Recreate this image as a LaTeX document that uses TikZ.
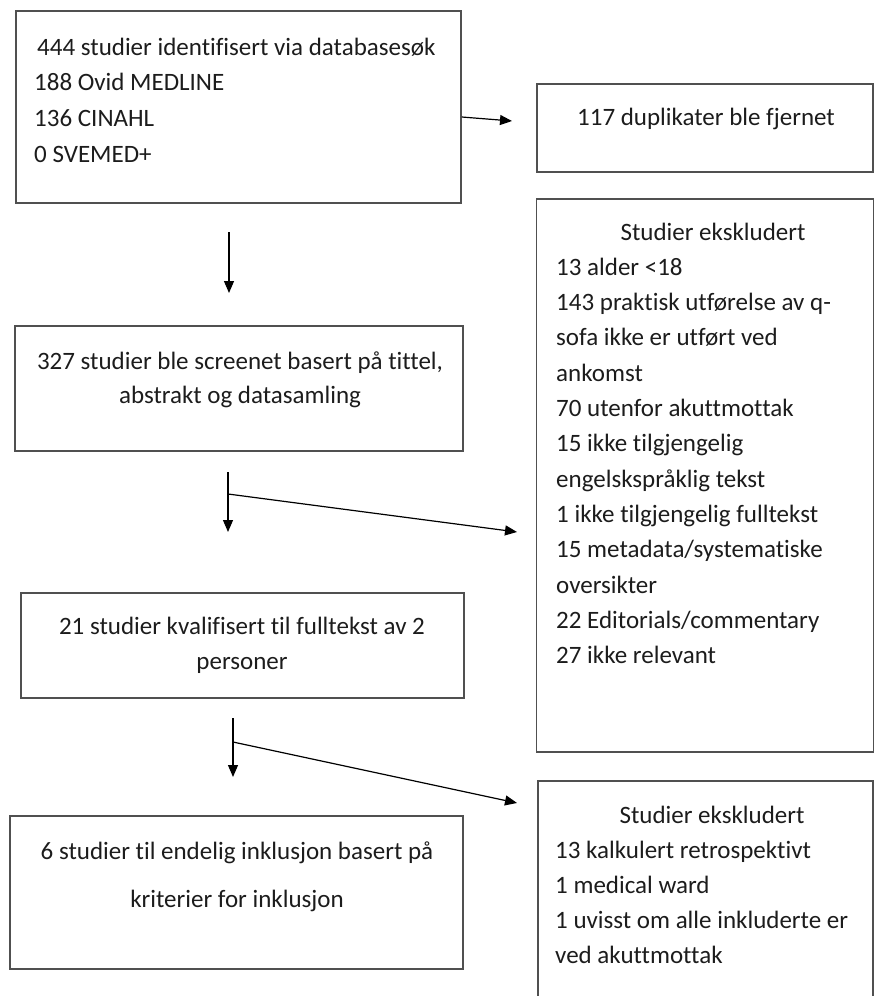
\documentclass[tikz,border=0pt]{standalone}
\usepackage{fontspec}
\setmainfont{Carlito}[Ligatures = NoCommon]
\usepackage{tikz}
\usetikzlibrary{arrows.meta}
\definecolor{boxgray}{HTML}{505050}
\definecolor{inkblack}{HTML}{1C1C1C}
\tikzset{
  box/.style = {draw = boxgray, line width = 1.6pt, inner sep = 0pt},
  txt/.style = {font = \fontsize{25}{35}\selectfont, text = inkblack, inner sep = 0pt},
  arr/.style = {line width = 1.2pt, -{Triangle[length = 12pt, width = 10pt]}}
}

\begin{document}
\begin{tikzpicture}[x = 1pt, y = -1pt]
\useasboundingbox (0,0) rectangle (874,996);
\clip (0,0) rectangle (874,996);
\node[box, minimum width = 445, minimum height = 192] (search) at (238.5,107) {};
\node[box, minimum width = 336, minimum height = 88] (dupl) at (705,128) {};
\node[box, minimum width = 448, minimum height = 125] (screen) at (239,388.5) {};
\node[box, minimum width = 337, minimum height = 553] (excl1) at (705,475.5) {};
\node[box, minimum width = 443, minimum height = 105] (full) at (242.5,645.5) {};
\node[box, minimum width = 453, minimum height = 153] (incl) at (236.5,892.5) {};
\node[box, minimum width = 335, minimum height = 260] (excl2) at (705.5,911) {};

\node[txt, anchor = base west] (search-0) at (37,55) {444 studier identifisert via databasesøk};
\foreach \t [count = \i] in {188 Ovid MEDLINE, 136 CINAHL, 0 SVEMED+}
  \node[txt, anchor = base west] (search-\i) at (34,{55+35.7*\i}) {\t};
\node[txt, anchor = base] (dupl-0) at (706,125) {117 duplikater ble fjernet};
\node[txt, anchor = base] (screen-0) at (240,369) {327 studier ble screenet basert på tittel,};
\node[txt, anchor = base] (screen-1) at (240,403) {abstrakt og datasamling};
\node[txt, anchor = base] (full-0) at (242,634) {21 studier kvalifisert til fulltekst av 2};
\node[txt, anchor = base] (full-1) at (242,669) {personer};
\node[txt, anchor = base] (incl-0) at (237,859) {6 studier til endelig inklusjon basert på};
\node[txt, anchor = base] (incl-1) at (237,907) {kriterier for inklusjon};

\node[txt, anchor = base] (excl1-0) at (713,240) {Studier ekskludert};
\foreach \t [count = \i] in {13 alder <18, 143 praktisk utførelse av q-, sofa ikke er utført ved, ankomst,
  70 utenfor akuttmottak, 15 ikke tilgjengelig, engelskspråklig tekst, 1 ikke tilgjengelig fulltekst,
  15 metadata/systematiske, oversikter, 22 Editorials/commentary, 27 ikke relevant}
  \node[txt, anchor = base west] (excl1-\i) at (556,{240+35.3*\i}) {\t};
\node[txt, anchor = base] (excl2-0) at (712,823) {Studier ekskludert};
\foreach \t [count = \i] in {13 kalkulert retrospektivt, 1 medical ward, 1 uvisst om alle inkluderte er, ved akuttmottak}
  \node[txt, anchor = base west] (excl2-\i) at (555,{823+35*\i}) {\t};

\coordinate (dupl-in) at (512,121);
\coordinate (screen-out) at (229,232);
\coordinate (screen-in) at (229,293);
\coordinate (full-out) at (228,472);
\coordinate (full-in) at (228,532);
\coordinate (excl1-fork) at (228,494);
\coordinate (excl1-in) at (517,532);
\coordinate (incl-out) at (233,718);
\coordinate (incl-in) at (233,777);
\coordinate (excl2-fork) at (233,742);
\coordinate (excl2-in) at (517,803);

\draw[arr] ([yshift = -10pt]search.east) -- (dupl-in);
\draw[arr] (screen-out) -- (screen-in);
\draw[arr] (full-out) -- (full-in);
\draw[arr] (excl1-fork) -- (excl1-in);
\draw[arr] (incl-out) -- (incl-in);
\draw[arr] (excl2-fork) -- (excl2-in);
\end{tikzpicture}
\end{document}
